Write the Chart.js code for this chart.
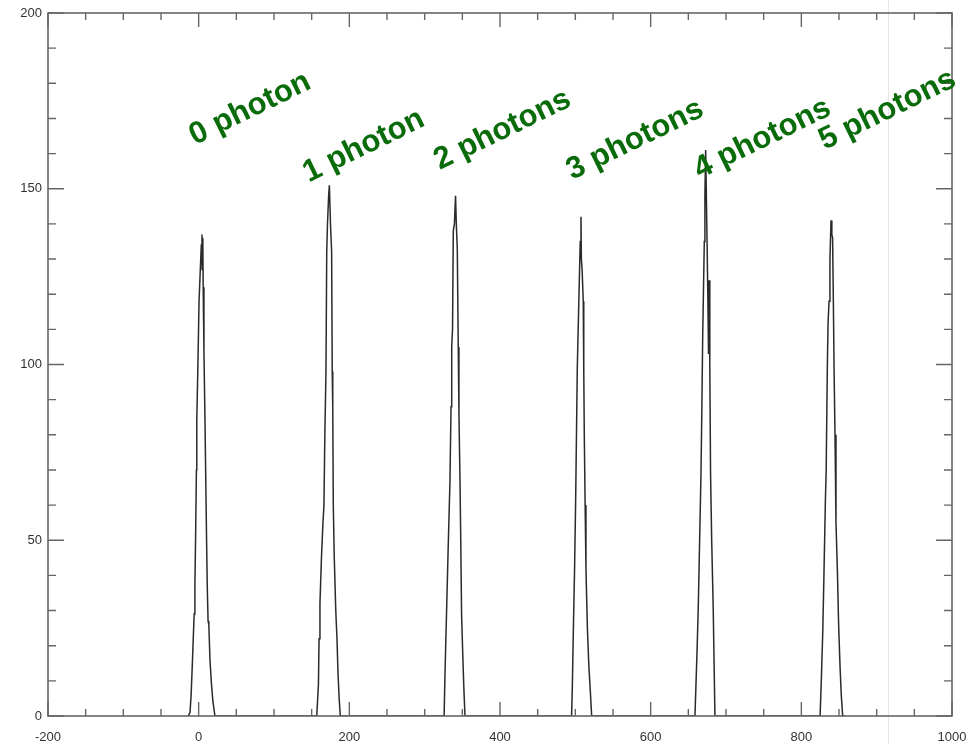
<!DOCTYPE html>
<html>
<head>
<meta charset="utf-8">
<script src="https://cdn.jsdelivr.net/npm/chart.js@4.4.1/dist/chart.umd.min.js"></script>
<style>
  html, body { margin: 0; padding: 0; background: #ffffff; }
  #wrap { width: 975px; height: 744px; position: relative; }
</style>
</head>
<body>
<div id="wrap"><canvas id="c" width="975" height="744"></canvas></div>
<script>
// ---- Data (x = channel, y = counts) ----
const peak0X = [-14, -11.5, -10, -8, -6, -5, -4, -3, -2.5, -1, 0.5, 2, 3.5, 4.4, 4.6, 5.5, 6, 7, 8.4, 9.5, 10.5, 11.4, 12.5, 13.5, 15, 17, 19, 21.6, 24];
const peak0Y = [0, 1, 6, 17, 29, 37, 52, 70, 84, 100, 118, 126, 134, 137, 127, 136, 122, 104, 84, 66, 50, 37, 27, 26, 16, 9, 4, 0, 0];

const peak1X = [154, 156.7, 158, 159, 159.8, 161, 163, 165, 166.3, 167.5, 169, 170, 171, 172.5, 173.5, 175, 176.5, 177.3, 178, 178.7, 180, 182, 183.6, 185, 186.5, 188, 190];
const peak1Y = [0, 0, 5, 9, 22, 32, 45, 55, 60, 80, 98, 132, 140, 148, 151, 140, 132, 98, 88, 60, 45, 30, 22, 12, 5, 0, 0];

const peak2X = [322, 325.8, 327, 329, 331, 333.6, 335, 335.9, 337, 338, 339.5, 341, 342, 343.3, 344.6, 345.5, 346.9, 348, 349, 350.5, 352, 353.5, 356];
const peak2Y = [0, 0, 12, 29, 46, 67, 88, 105, 110, 138, 140, 148, 140, 133, 105, 86, 67, 48, 29, 18, 8, 0, 0];

const peak3X = [492, 495, 496, 497.3, 499, 500.4, 501.5, 502.6, 504, 505.2, 506.5, 507.5, 508, 509, 510.5, 511.2, 511.9, 513, 514.1, 516, 518, 519.4, 521.7, 524];
const peak3Y = [0, 0, 8, 23.6, 42, 61, 80, 99, 112, 123, 135, 142, 130, 127, 118, 98, 80, 60, 42, 25, 14, 9, 0, 0];

const peak4X = [656, 658.8, 660, 661.5, 663.2, 665, 666.8, 668, 669, 670, 671.2, 672, 673, 674.5, 676, 676.8, 677.5, 678.5, 679.5, 681, 683, 685.3, 688];
const peak4Y = [0, 0, 8, 18, 31, 50, 69, 88, 107, 120, 135, 148, 161, 140, 118, 103, 124, 100, 69, 50, 31, 0, 0];

const peak5X = [822, 824.9, 826.5, 828.4, 830, 831.9, 833, 834.5, 835.5, 836.8, 838, 839.4, 840.5, 841.5, 842.5, 843.5, 844.7, 846, 847.8, 849.5, 851.4, 853, 854.9, 858];
const peak5Y = [0, 0, 10, 23.6, 40, 61, 70, 99, 112, 118, 130, 141, 137, 136, 118, 98, 80, 55, 42, 26, 14, 6, 0, 0];

const peakLabels = ['0 photon', '1 photon', '2 photons', '3 photons', '4 photons', '5 photons'];
const xTickLabels = [-200, 0, 200, 400, 600, 800, 1000];
const yTickLabels = [0, 50, 100, 150, 200];

// ---- build the single trace ----
const allX = [].concat(peak0X, peak1X, peak2X, peak3X, peak4X, peak5X);
const allY = [].concat(peak0Y, peak1Y, peak2Y, peak3Y, peak4Y, peak5Y);
const points = allX.map((x, i) => ({ x: x, y: allY[i] }));

// label anchors in data coordinates (start of text baseline)
const labelAnchors = [
  { x: -5,  y: 162.4 },
  { x: 146, y: 151.8 },
  { x: 320, y: 155.3 },
  { x: 496, y: 152.5 },
  { x: 665, y: 152.8 },
  { x: 831, y: 161 }
];

const framePlugin = {
  id: 'framePlugin',
  beforeDraw(chart) {
    const ctx = chart.ctx;
    const xs = chart.scales.x;
    ctx.save();
    ctx.fillStyle = '#ffffff';
    ctx.fillRect(0, 0, chart.width, chart.height);
    // faint vertical artefact line
    const px = Math.round(xs.getPixelForValue(915)) + 0.5;
    ctx.strokeStyle = '#e4e4e4';
    ctx.lineWidth = 1;
    ctx.beginPath();
    ctx.moveTo(px, 0);
    ctx.lineTo(px, chart.height);
    ctx.stroke();
    ctx.restore();
  },
  afterDatasetsDraw(chart) {
    const ctx = chart.ctx;
    const a = chart.chartArea;
    const xs = chart.scales.x, ys = chart.scales.y;
    ctx.save();
    ctx.strokeStyle = '#666666';
    ctx.lineWidth = 1.6;
    ctx.strokeRect(a.left, a.top, a.right - a.left, a.bottom - a.top);
    ctx.lineWidth = 1.4;
    ctx.beginPath();
    for (let v = -200; v <= 1000; v += 50) {
      const p = xs.getPixelForValue(v);
      const len = (v % 200 === 0) ? 14 : 7;
      ctx.moveTo(p, a.bottom); ctx.lineTo(p, a.bottom - len);
      ctx.moveTo(p, a.top); ctx.lineTo(p, a.top + len);
    }
    for (let v = 0; v <= 200; v += 10) {
      const p = ys.getPixelForValue(v);
      const len = (v % 50 === 0) ? 16 : 8;
      ctx.moveTo(a.left, p); ctx.lineTo(a.left + len, p);
      ctx.moveTo(a.right, p); ctx.lineTo(a.right - len, p);
    }
    ctx.stroke();

    // photon labels
    ctx.fillStyle = '#0a6b0a';
    ctx.font = 'bold 31px "Liberation Sans", Arial, sans-serif';
    ctx.textBaseline = 'alphabetic';
    ctx.textAlign = 'left';
    peakLabels.forEach((t, i) => {
      const x = xs.getPixelForValue(labelAnchors[i].x);
      const y = ys.getPixelForValue(labelAnchors[i].y);
      ctx.save();
      ctx.translate(x, y);
      ctx.rotate(-26 * Math.PI / 180);
      ctx.fillText(t, 0, 0);
      ctx.restore();
    });
    ctx.restore();
  }
};

new Chart(document.getElementById('c'), {
  type: 'line',
  data: {
    datasets: [{
      data: points,
      borderColor: '#2a2a2a',
      borderWidth: 1.5,
      pointRadius: 0,
      tension: 0,
      fill: false
    }]
  },
  options: {
    responsive: false,
    animation: false,
    devicePixelRatio: 1,
    layout: { padding: { top: 13, right: 23, left: 0, bottom: 0 } },
    plugins: { legend: { display: false }, tooltip: { enabled: false } },
    scales: {
      x: {
        type: 'linear',
        min: -200, max: 1000,
        afterBuildTicks(scale) { scale.ticks = xTickLabels.map(v => ({ value: v })); },
        afterFit(scale) { scale.height = 28; scale.paddingLeft = 0; scale.paddingRight = 0; },
        grid: { display: false, drawTicks: false },
        border: { display: false },
        ticks: {
          padding: 14,
          color: '#333333',
          font: { family: '"Liberation Sans", Arial, sans-serif', size: 13 },
          maxRotation: 0,
          autoSkip: false,
          callback: v => String(v)
        }
      },
      y: {
        type: 'linear',
        min: 0, max: 200,
        afterBuildTicks(scale) { scale.ticks = yTickLabels.map(v => ({ value: v })); },
        afterFit(scale) { scale.width = 48; scale.paddingTop = 0; scale.paddingBottom = 0; },
        grid: { display: false, drawTicks: false },
        border: { display: false },
        ticks: {
          padding: 6,
          color: '#333333',
          font: { family: '"Liberation Sans", Arial, sans-serif', size: 13 },
          autoSkip: false,
          callback: v => String(v)
        }
      }
    }
  },
  plugins: [framePlugin]
});
</script>
</body>
</html>
